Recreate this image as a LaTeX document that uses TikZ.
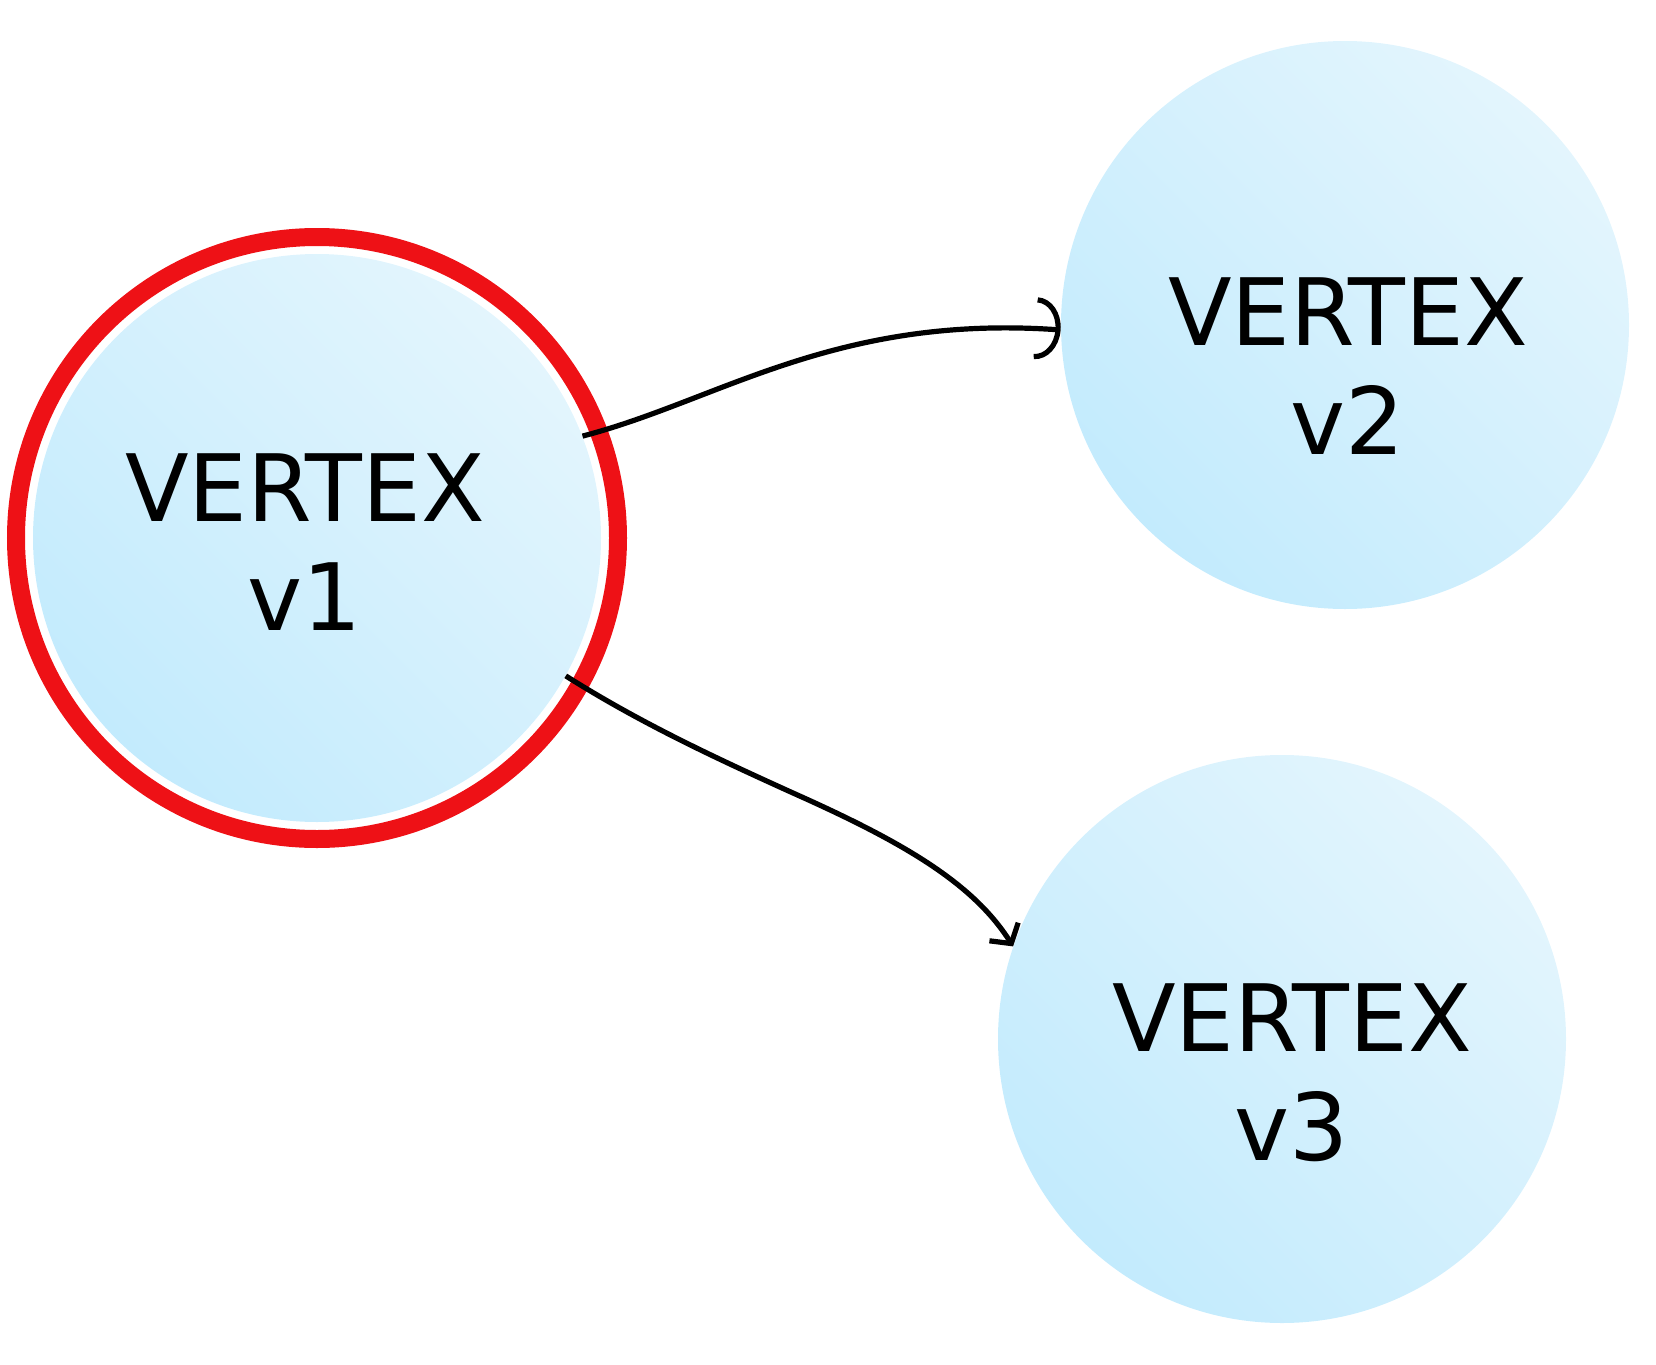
\documentclass[tikz,border=0pt]{standalone}
\usepackage{fontspec}
\setmainfont{DejaVu Sans}
\usetikzlibrary{arrows.meta, positioning, calc}
\definecolor{vdark}{RGB}{195,235,253}
\definecolor{vlight}{RGB}{227,245,253}
\definecolor{ringred}{RGB}{238,17,22}

\begin{document}
\begin{tikzpicture}[x=0.5pt,y=-0.5pt,
    vertex/.style={circle, minimum size=284pt, inner sep=0pt,
        bottom color=vdark, top color=vlight, shading angle=-45},
    vlabel/.style={align=center, font=\fontsize{46.5}{54.5}\selectfont, inner sep=0pt},
    link/.style={line width=2.6pt}]
        \useasboundingbox (0,0) rectangle (1656,1365);
        % vertices
        \node[vertex] (v1) at (317,538) {};
        \node[vertex] (v2) at (1345,325) {};
        \node[vertex] (v3) at (1282,1039) {};
        \draw[ringred, line width=9pt] (v1) circle[radius=301];
        \node[vlabel] (t1) at (305,542) {VERTEX\\v1};
        \node[vlabel] (t2) at (1348,366) {VERTEX\\v2};
        \node[vlabel] (t3) at (1292,1073) {VERTEX\\v3};
        % links
        \coordinate (bend) at (793,793);
        \draw[link, -{Arc Barb[length=12.5pt, width=31pt]}] (v1.21) .. controls (718,401) and (835,314) .. (v2.181);
        \draw[link, -{Straight Barb[length=7pt, width=17pt]}] (v1.-29) .. controls (642,724) and (718,759) .. (bend)
            .. controls (903,842) and (973,883) .. (v3.161);
    \end{tikzpicture}
\end{document}
